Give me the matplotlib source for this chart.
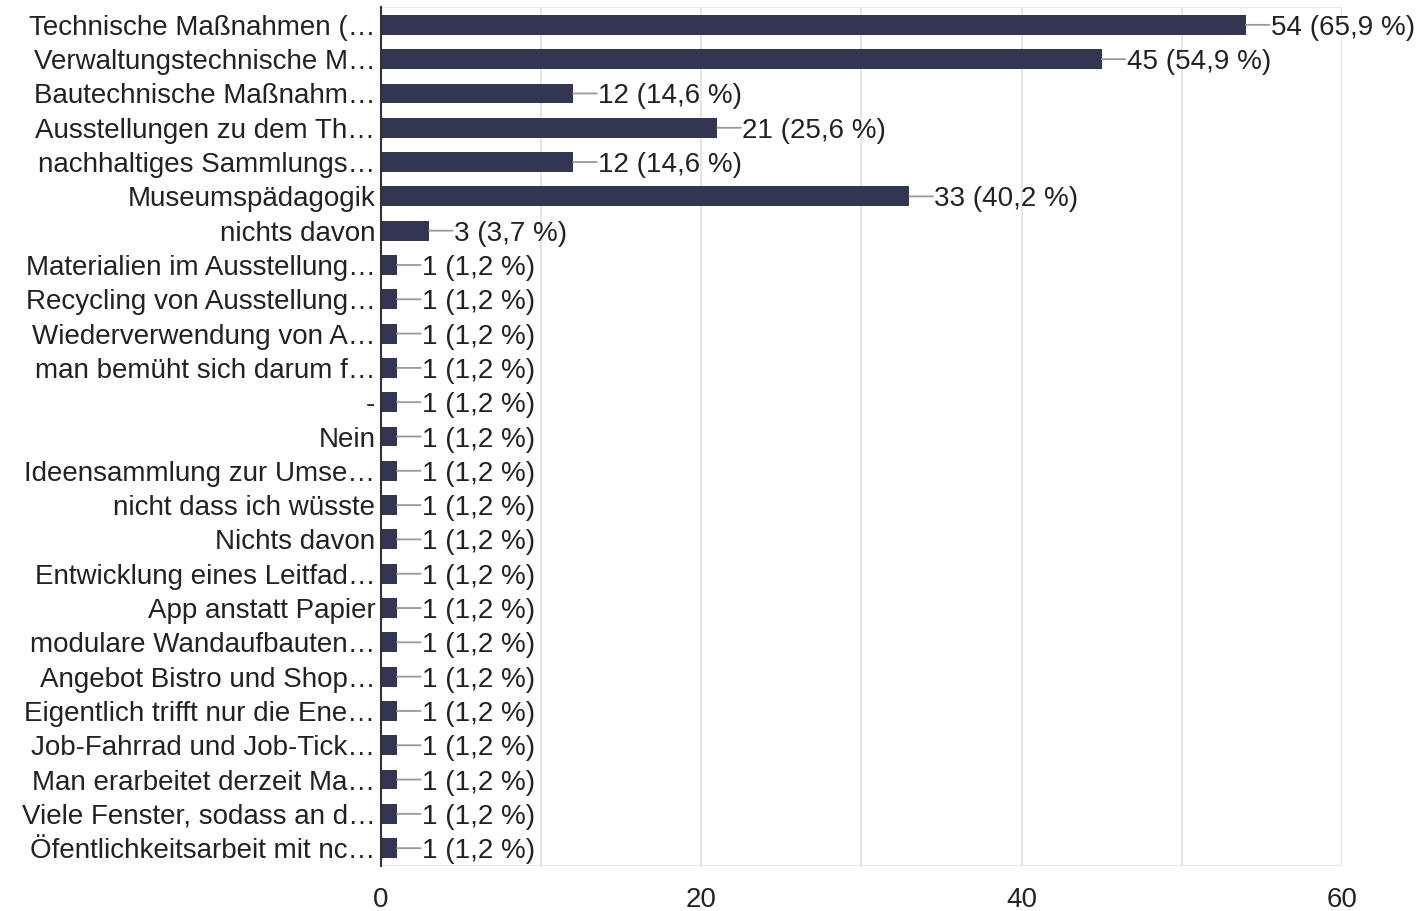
import matplotlib.pyplot as plt
from matplotlib.ticker import MultipleLocator

plt.rcParams["font.family"] = ["Liberation Sans", "DejaVu Sans"]

# Antworten (gekürzt wie im Original) und Anzahl der Nennungen
categories = [
    "Technische Maßnahmen (…",
    "Verwaltungstechnische M…",
    "Bautechnische Maßnahm…",
    "Ausstellungen zu dem Th…",
    "nachhaltiges Sammlungs…",
    "Museumspädagogik",
    "nichts davon",
    "Materialien im Ausstellung…",
    "Recycling von Ausstellung…",
    "Wiederverwendung von A…",
    "man bemüht sich darum f…",
    "-",
    "Nein",
    "Ideensammlung zur Umse…",
    "nicht dass ich wüsste",
    "Nichts davon",
    "Entwicklung eines Leitfad…",
    "App anstatt Papier",
    "modulare Wandaufbauten…",
    "Angebot Bistro und Shop…",
    "Eigentlich trifft nur die Ene…",
    "Job-Fahrrad und Job-Tick…",
    "Man erarbeitet derzeit Ma…",
    "Viele Fenster, sodass an d…",
    "Öfentlichkeitsarbeit mit nc…",
]
counts = [54, 45, 12, 21, 12, 33, 3] + [1] * 18
percents = ["65,9", "54,9", "14,6", "25,6", "14,6", "40,2", "3,7"] + ["1,2"] * 18

bar_color = "#333653"
text_color = "#222222"
grid_color = "#e6e6e6"

fig = plt.figure(figsize=(14.2, 9.11), dpi=100)
ax = fig.add_axes([0.2683, 0.0494, 0.945 - 0.2683, 0.9923 - 0.0494])

y = list(range(len(categories)))
ax.barh(y, counts, height=0.58, color=bar_color, zorder=3)

for yi, n, p in zip(y, counts, percents):
    # waagrechte Führungslinie vom Balkenende zum Wert
    ax.annotate(
        "",
        xy=(n, yi),
        xytext=(17, 0),
        textcoords="offset points",
        arrowprops=dict(arrowstyle="-", color="#999999", lw=1.3, shrinkA=0, shrinkB=0),
        zorder=4,
    )
    ax.annotate(
        f"{n} ({p} %)",
        xy=(n, yi),
        xytext=(18, 0),
        textcoords="offset points",
        va="center_baseline",
        ha="left",
        fontsize=20,
        color=text_color,
        zorder=4,
    )

ax.set_xlim(0, 60)
ax.set_ylim(len(categories) - 0.48, -0.52)
ax.set_yticks(y)
ax.set_yticklabels(categories, fontsize=20, color=text_color, va="center_baseline")
ax.xaxis.set_major_locator(MultipleLocator(20))
ax.xaxis.set_minor_locator(MultipleLocator(10))
ax.tick_params(axis="x", which="both", length=0, pad=15, labelsize=20, labelcolor=text_color)
ax.tick_params(axis="y", length=0, pad=4)
ax.grid(axis="x", which="both", color=grid_color, lw=1.5, zorder=0)

for side in ["top", "bottom", "right"]:
    ax.spines[side].set_visible(False)
ax.spines["left"].set_color("#333333")
ax.spines["left"].set_linewidth(1.5)
ax.spines["left"].set_zorder(5)
ax.axhline(-0.52, color=grid_color, lw=1.5, zorder=0)
ax.axhline(len(categories) - 0.48, color=grid_color, lw=1.5, zorder=0)

fig.savefig("out.png", dpi=100)
